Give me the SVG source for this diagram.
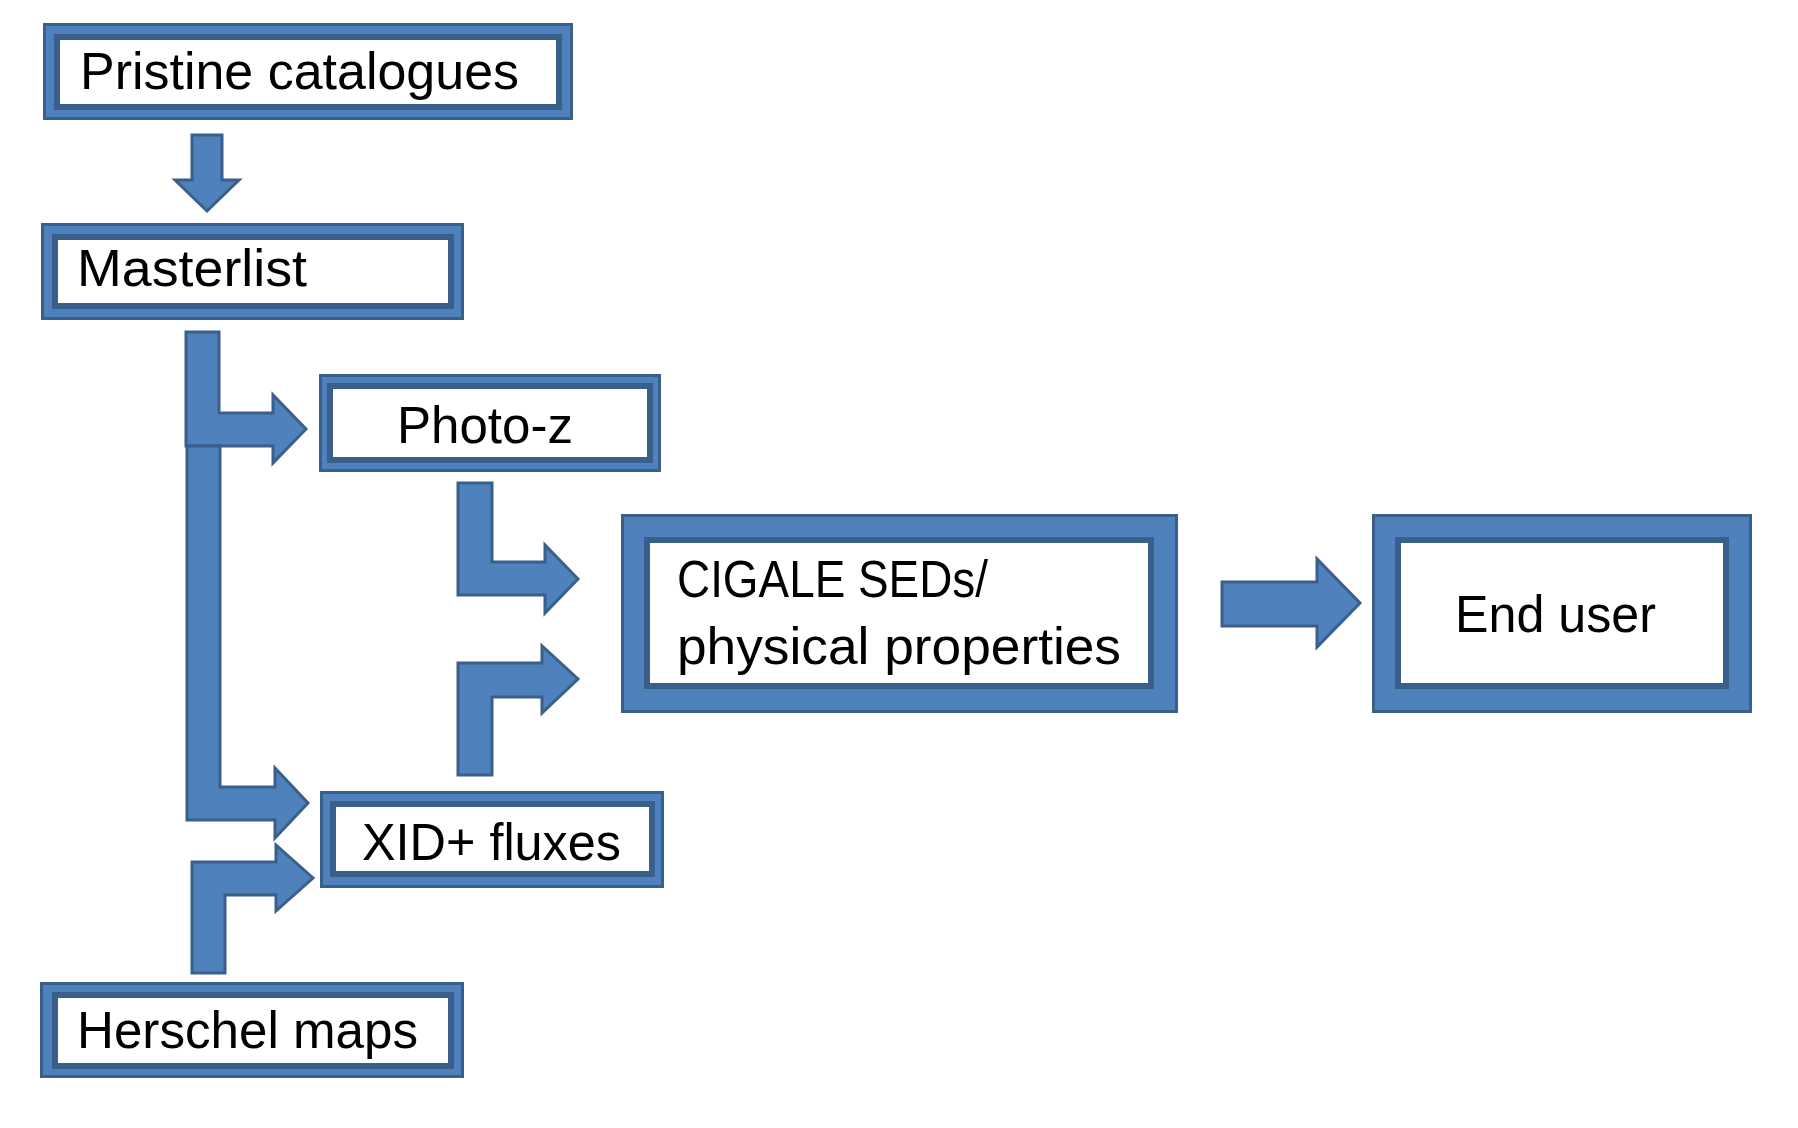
<svg xmlns="http://www.w3.org/2000/svg" width="1798" height="1128" viewBox="0 0 1798 1128">
<style>
.outer{fill:#4f81bd;stroke:#3a5f8b;stroke-width:3}
.inner{fill:#ffffff;stroke:#3a5f8b;stroke-width:6}
.arrow{fill:#4f81bd;stroke:#3a5f8b;stroke-width:3;stroke-linejoin:miter}
.lbl{font-family:"Liberation Sans",Arial,sans-serif;font-size:52px;fill:#000000}
</style>
<rect x="0" y="0" width="1798" height="1128" fill="#ffffff"/>
<g id="connectors">
<polygon class="arrow" points="192,135 222,135 222,180 239,180 207,211 175,180 192,180"/>
<polygon class="arrow" points="186,332 219,332 219,413 273,413 273,395 306,429 273,463 273,446 186,446"/>
<polygon class="arrow" points="187,446 220,446 220,787 275,787 275,768 308,803 275,838 275,820 187,820"/>
<polygon class="arrow" points="458,483 492,483 492,562 545,562 545,545 578,579 545,613 545,595 458,595"/>
<polygon class="arrow" points="458,775 458,663 542,663 542,646 578,679 542,713 542,697 492,697 492,775"/>
<polygon class="arrow" points="1222,582 1317,582 1317,559 1360,603 1317,647 1317,626 1222,626"/>
<polygon class="arrow" points="192,973 192,862 276,862 276,845 313,878 276,911 276,895 225,895 225,973"/>
</g>
<g id="pristine">
<rect class="outer" x="44.5" y="24.5" width="527" height="94"/>
<rect class="inner" x="57" y="37" width="502" height="70"/>
<text class="lbl" x="80" y="89" textLength="439" lengthAdjust="spacingAndGlyphs">Pristine catalogues</text>
</g>
<g id="masterlist">
<rect class="outer" x="42.5" y="224.5" width="420" height="94"/>
<rect class="inner" x="55" y="237" width="396" height="69"/>
<text class="lbl" x="77" y="286" textLength="230" lengthAdjust="spacingAndGlyphs">Masterlist</text>
</g>
<g id="photoz">
<rect class="outer" x="320.5" y="375.5" width="339" height="95"/>
<rect class="inner" x="330" y="386" width="320" height="74"/>
<text class="lbl" x="397" y="443" textLength="176" lengthAdjust="spacingAndGlyphs">Photo-z</text>
</g>
<g id="cigale">
<rect class="outer" x="622.5" y="515.5" width="554" height="196"/>
<rect class="inner" x="647" y="540" width="504" height="146"/>
<text class="lbl" x="677" y="597" textLength="311" lengthAdjust="spacingAndGlyphs">CIGALE SEDs/</text>
<text class="lbl" x="677" y="664" textLength="444" lengthAdjust="spacingAndGlyphs">physical properties</text>
</g>
<g id="enduser">
<rect class="outer" x="1373.5" y="515.5" width="377" height="196"/>
<rect class="inner" x="1398" y="540" width="328" height="146"/>
<text class="lbl" x="1455" y="632" textLength="201" lengthAdjust="spacingAndGlyphs">End user</text>
</g>
<g id="xid">
<rect class="outer" x="321.5" y="792.5" width="341" height="94"/>
<rect class="inner" x="333" y="804" width="319" height="70"/>
<text class="lbl" x="362" y="860" textLength="259" lengthAdjust="spacingAndGlyphs">XID+ fluxes</text>
</g>
<g id="herschel">
<rect class="outer" x="41.5" y="983.5" width="421" height="93"/>
<rect class="inner" x="55" y="995" width="396" height="71"/>
<text class="lbl" x="77" y="1048" textLength="341" lengthAdjust="spacingAndGlyphs">Herschel maps</text>
</g>
</svg>
